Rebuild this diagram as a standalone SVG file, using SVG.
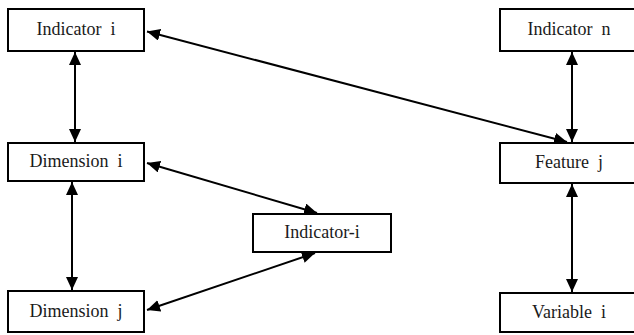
<svg xmlns="http://www.w3.org/2000/svg" width="634" height="335" viewBox="0 0 634 335">
<style>
.box{fill:#fff;stroke:#000;stroke-width:2}
.lbl{font-family:'Liberation Serif','DejaVu Serif',serif;font-size:18px;fill:#1a1a1a;text-anchor:middle;white-space:pre}
.conn{stroke:#000;stroke-width:2;fill:none;marker-start:url(#ah);marker-end:url(#ah)}
</style>
<defs>
<marker id="ah" markerUnits="userSpaceOnUse" markerWidth="14" markerHeight="12" viewBox="0 0 14 12" refX="13" refY="6" orient="auto-start-reverse">
<path d="M0,0 L13,6 L0,12 Z" fill="#000"/>
</marker>
</defs>
<rect width="634" height="335" fill="#fff"/>
<g id="connectors">
<line class="conn" x1="75" y1="52" x2="75" y2="142"/>
<line class="conn" x1="72" y1="182" x2="72" y2="290"/>
<line class="conn" x1="147" y1="31.5" x2="567" y2="142"/>
<line class="conn" x1="572" y1="52" x2="572" y2="142"/>
<line class="conn" x1="572" y1="184" x2="572" y2="292"/>
<line class="conn" x1="147" y1="163" x2="317" y2="213"/>
<line class="conn" x1="315" y1="253" x2="147" y2="310"/>
</g>
<g id="indicator-i-top">
<rect class="box" x="8" y="9" width="136" height="42"/>
<text class="lbl" font-family="Liberation Serif, serif" x="76" y="35" xml:space="preserve">Indicator  i</text>
</g>
<g id="dimension-i">
<rect class="box" x="8" y="143" width="136" height="38"/>
<text class="lbl" x="76" y="167" xml:space="preserve">Dimension  i</text>
</g>
<g id="dimension-j">
<rect class="box" x="8" y="291" width="136" height="41"/>
<text class="lbl" x="76" y="317" xml:space="preserve">Dimension  j</text>
</g>
<g id="indicator-dash-i">
<rect class="box" x="253" y="214" width="138" height="38"/>
<text class="lbl" x="322" y="237.5">Indicator-i</text>
</g>
<g id="indicator-n">
<rect class="box" x="500" y="9" width="140" height="42"/>
<text class="lbl" x="569" y="35" xml:space="preserve">Indicator  n</text>
</g>
<g id="feature-j">
<rect class="box" x="500" y="143" width="140" height="40"/>
<text class="lbl" x="569" y="168" xml:space="preserve">Feature  j</text>
</g>
<g id="variable-i">
<rect class="box" x="500" y="293" width="140" height="39"/>
<text class="lbl" x="569" y="318" xml:space="preserve">Variable  i</text>
</g>
</svg>
